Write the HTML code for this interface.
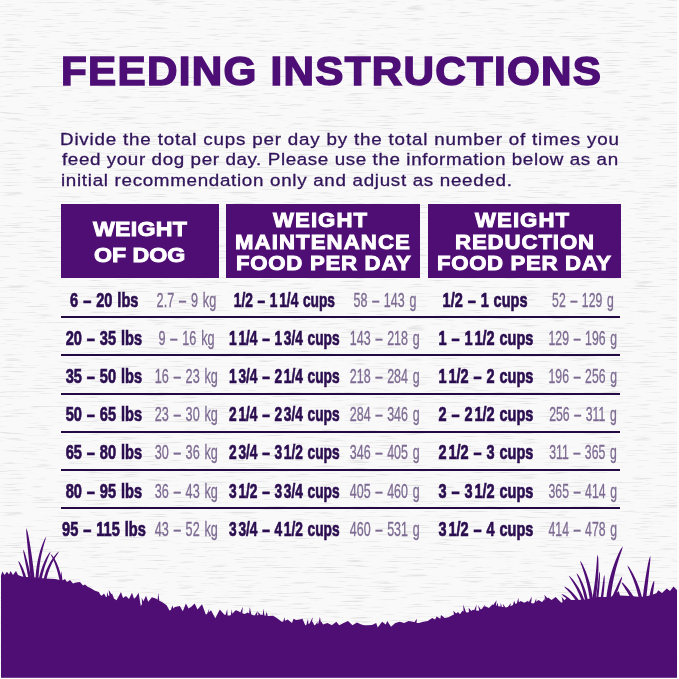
<!DOCTYPE html>
<html><head><meta charset="utf-8"><style>
*{margin:0;padding:0;box-sizing:border-box}
html,body{width:679px;height:679px;overflow:hidden;background:#f9f9f9}
body{position:relative;font-family:"Liberation Sans",sans-serif}
.t{position:absolute;white-space:nowrap;line-height:0;transform-origin:0 0}
.h1{font-weight:bold;color:#4d0e76;-webkit-text-stroke:1.5px #4d0e76}
.para{color:#31145a;-webkit-text-stroke:0.3px #31145a}
.hl{color:#fff;font-weight:bold;-webkit-text-stroke:0.9px #fff}
.box{position:absolute;top:204px;height:74px;background:#4f0e74}
.c{position:absolute;width:200px;text-align:center;white-space:nowrap;line-height:0;height:0}
.c span{display:inline-block;font-size:20.2px;line-height:0;transform-origin:50% 0}
.tb span{font-weight:bold;color:#2b0e50;-webkit-text-stroke:0.7px #2b0e50}
.c i{display:inline-block;width:2.6px}
.tb span{word-spacing:1.2px}
.tl span{word-spacing:2.2px}
.tl span{font-size:21px;color:#7d6b92;-webkit-text-stroke:0.35px #7d6b92}
.sep{position:absolute;left:61px;width:559.2px;height:2px;background:#230a42}
svg{position:absolute;left:0;top:0}
</style></head><body>
<svg width="679" height="679"><filter id="g" x="0" y="0" width="100%" height="100%"><feTurbulence type="fractalNoise" baseFrequency="0.035 0.8" numOctaves="3" seed="5"/><feColorMatrix type="matrix" values="0 0 0 0 0.55  0 0 0 0 0.55  0 0 0 0 0.55  4 0 0 0 -2.3"/></filter><rect width="679" height="679" filter="url(#g)" opacity="0.42"/></svg>
<div class="box" style="left:61px;width:158px"></div>
<div class="box" style="left:226px;width:193.8px"></div>
<div class="box" style="left:427.5px;width:193px"></div>
<div id="h" class="t h1" style="left:61.15px;top:70.73px;font-size:40.60px;letter-spacing:1.223px;transform:scaleX(1.040)">FEEDING INSTRUCTIONS</div>
<div id="p1" class="t para" style="left:60.43px;top:139.78px;font-size:16.80px;letter-spacing:0.719px;transform:scaleX(1.120)">Divide the total cups per day by the total number of times you</div>
<div id="p2" class="t para" style="left:61.64px;top:160.28px;font-size:16.80px;letter-spacing:0.538px;transform:scaleX(1.120)">feed your dog per day. Please use the information below as an</div>
<div id="p3" class="t para" style="left:60.56px;top:180.88px;font-size:16.80px;letter-spacing:0.613px;transform:scaleX(1.120)">initial recommendation only and adjust as needed.</div>
<div id="a1" class="t hl" style="left:92.64px;top:228.69px;font-size:21.10px;letter-spacing:0.199px;transform:scaleX(1.100)">WEIGHT</div>
<div id="a2" class="t hl" style="left:94.09px;top:254.69px;font-size:21.10px;letter-spacing:-0.044px;transform:scaleX(1.100)">OF DOG</div>
<div id="b1" class="t hl" style="left:272.84px;top:220.20px;font-size:20.20px;letter-spacing:0.964px;transform:scaleX(1.100)">WEIGHT</div>
<div id="b2" class="t hl" style="left:235.44px;top:241.50px;font-size:20.20px;letter-spacing:0.978px;transform:scaleX(1.100)">MAINTENANCE</div>
<div id="b3" class="t hl" style="left:235.84px;top:262.90px;font-size:20.20px;letter-spacing:0.654px;transform:scaleX(1.100)">FOOD PER DAY</div>
<div id="c1" class="t hl" style="left:475.04px;top:220.20px;font-size:20.20px;letter-spacing:0.964px;transform:scaleX(1.100)">WEIGHT</div>
<div id="c2" class="t hl" style="left:455.04px;top:241.50px;font-size:20.20px;letter-spacing:0.806px;transform:scaleX(1.100)">REDUCTION</div>
<div id="c3" class="t hl" style="left:437.34px;top:262.90px;font-size:20.20px;letter-spacing:0.588px;transform:scaleX(1.100)">FOOD PER DAY</div>
<div class="sep" style="top:316.30px"></div>
<div class="sep" style="top:354.45px"></div>
<div class="sep" style="top:392.60px"></div>
<div class="sep" style="top:430.75px"></div>
<div class="sep" style="top:468.90px"></div>
<div class="sep" style="top:507.05px"></div>
<div class="c tb" style="left:4.0px;top:300.00px"><span style="transform:scaleX(0.723)">6 – 20 lbs</span></div>
<div class="c tl" style="left:86.5px;top:300.00px"><span style="transform:scaleX(0.603)">2.7 – 9 kg</span></div>
<div class="c tb" style="left:184.0px;top:300.00px"><span style="transform:scaleX(0.680)">1/2 – 1<i></i>1/4 cups</span></div>
<div class="c tl" style="left:284.5px;top:300.00px"><span style="transform:scaleX(0.594)">58 – 143 g</span></div>
<div class="c tb" style="left:385.5px;top:300.00px"><span style="transform:scaleX(0.719)">1/2 – 1 cups</span></div>
<div class="c tl" style="left:483.0px;top:300.00px"><span style="transform:scaleX(0.582)">52 – 129 g</span></div>
<div class="c tb" style="left:4.0px;top:338.10px"><span style="transform:scaleX(0.723)">20 – 35 lbs</span></div>
<div class="c tl" style="left:86.5px;top:338.10px"><span style="transform:scaleX(0.603)">9 – 16 kg</span></div>
<div class="c tb" style="left:184.0px;top:338.10px"><span style="transform:scaleX(0.680)">1<i></i>1/4 – 1<i></i>3/4 cups</span></div>
<div class="c tl" style="left:284.5px;top:338.10px"><span style="transform:scaleX(0.594)">143 – 218 g</span></div>
<div class="c tb" style="left:385.5px;top:338.10px"><span style="transform:scaleX(0.719)">1 – 1<i></i>1/2 cups</span></div>
<div class="c tl" style="left:483.0px;top:338.10px"><span style="transform:scaleX(0.582)">129 – 196 g</span></div>
<div class="c tb" style="left:4.0px;top:376.20px"><span style="transform:scaleX(0.723)">35 – 50 lbs</span></div>
<div class="c tl" style="left:86.5px;top:376.20px"><span style="transform:scaleX(0.603)">16 – 23 kg</span></div>
<div class="c tb" style="left:184.0px;top:376.20px"><span style="transform:scaleX(0.680)">1<i></i>3/4 – 2<i></i>1/4 cups</span></div>
<div class="c tl" style="left:284.5px;top:376.20px"><span style="transform:scaleX(0.594)">218 – 284 g</span></div>
<div class="c tb" style="left:385.5px;top:376.20px"><span style="transform:scaleX(0.719)">1<i></i>1/2 – 2 cups</span></div>
<div class="c tl" style="left:483.0px;top:376.20px"><span style="transform:scaleX(0.582)">196 – 256 g</span></div>
<div class="c tb" style="left:4.0px;top:414.30px"><span style="transform:scaleX(0.723)">50 – 65 lbs</span></div>
<div class="c tl" style="left:86.5px;top:414.30px"><span style="transform:scaleX(0.603)">23 – 30 kg</span></div>
<div class="c tb" style="left:184.0px;top:414.30px"><span style="transform:scaleX(0.680)">2<i></i>1/4 – 2<i></i>3/4 cups</span></div>
<div class="c tl" style="left:284.5px;top:414.30px"><span style="transform:scaleX(0.594)">284 – 346 g</span></div>
<div class="c tb" style="left:385.5px;top:414.30px"><span style="transform:scaleX(0.719)">2 – 2<i></i>1/2 cups</span></div>
<div class="c tl" style="left:483.0px;top:414.30px"><span style="transform:scaleX(0.582)">256 – 311 g</span></div>
<div class="c tb" style="left:4.0px;top:452.40px"><span style="transform:scaleX(0.723)">65 – 80 lbs</span></div>
<div class="c tl" style="left:86.5px;top:452.40px"><span style="transform:scaleX(0.603)">30 – 36 kg</span></div>
<div class="c tb" style="left:184.0px;top:452.40px"><span style="transform:scaleX(0.680)">2<i></i>3/4 – 3<i></i>1/2 cups</span></div>
<div class="c tl" style="left:284.5px;top:452.40px"><span style="transform:scaleX(0.594)">346 – 405 g</span></div>
<div class="c tb" style="left:385.5px;top:452.40px"><span style="transform:scaleX(0.719)">2<i></i>1/2 – 3 cups</span></div>
<div class="c tl" style="left:483.0px;top:452.40px"><span style="transform:scaleX(0.582)">311 – 365 g</span></div>
<div class="c tb" style="left:4.0px;top:490.50px"><span style="transform:scaleX(0.723)">80 – 95 lbs</span></div>
<div class="c tl" style="left:86.5px;top:490.50px"><span style="transform:scaleX(0.603)">36 – 43 kg</span></div>
<div class="c tb" style="left:184.0px;top:490.50px"><span style="transform:scaleX(0.680)">3<i></i>1/2 – 3<i></i>3/4 cups</span></div>
<div class="c tl" style="left:284.5px;top:490.50px"><span style="transform:scaleX(0.594)">405 – 460 g</span></div>
<div class="c tb" style="left:385.5px;top:490.50px"><span style="transform:scaleX(0.719)">3 – 3<i></i>1/2 cups</span></div>
<div class="c tl" style="left:483.0px;top:490.50px"><span style="transform:scaleX(0.582)">365 – 414 g</span></div>
<div class="c tb" style="left:4.0px;top:528.60px"><span style="transform:scaleX(0.723)">95 – 115 lbs</span></div>
<div class="c tl" style="left:86.5px;top:528.60px"><span style="transform:scaleX(0.603)">43 – 52 kg</span></div>
<div class="c tb" style="left:184.0px;top:528.60px"><span style="transform:scaleX(0.680)">3<i></i>3/4 – 4<i></i>1/2 cups</span></div>
<div class="c tl" style="left:284.5px;top:528.60px"><span style="transform:scaleX(0.594)">460 – 531 g</span></div>
<div class="c tb" style="left:385.5px;top:528.60px"><span style="transform:scaleX(0.719)">3<i></i>1/2 – 4 cups</span></div>
<div class="c tl" style="left:483.0px;top:528.60px"><span style="transform:scaleX(0.582)">414 – 478 g</span></div>
<svg width="679" height="679"><g fill="#4f0e74"><path d="M1.0,575.6 L2.5,571.5 L4.5,575.0 L7.0,571.8 L9.0,574.5 L10.5,571.0 L13.0,575.0 L16.0,571.0 L18.0,575.0 L22.0,576.5 L26.0,577.0 L35.0,577.5 L45.0,578.5 L55.0,579.0 L60.0,580.0 L61.3,571.0 L62.5,580.5 L65.0,579.0 L67.0,582.0 L70.0,580.0 L73.0,583.5 L76.0,582.5 L80.0,582.0 L83.0,585.5 L85.0,584.5 L88.0,587.0 L90.0,587.7 L95.0,590.7 L98.8,592.1 L100.5,595.0 L101.8,595.8 L104.0,593.5 L106.0,597.0 L106.8,596.9 L107.1,591.9 L108.5,595.9 L109.4,595.4 L108.7,590.1 L111.5,594.2 L112.0,593.6 L114.0,598.5 L116.5,600.2 L121.0,592.0 L123.0,598.0 L126.0,596.0 L129.0,599.0 L132.0,592.8 L134.0,598.7 L136.0,597.0 L138.6,592.8 L140.8,606.0 L142.0,603.9 L141.7,597.8 L143.4,601.2 L146.0,595.8 L148.2,601.7 L151.9,597.2 L156.3,598.7 L157.6,599.8 L158.3,593.0 L159.3,600.7 L162.0,602.0 L166.6,605.3 L169.5,610.5 L170.8,610.0 L172.5,605.3 L173.2,608.5 L175.0,607.0 L179.8,606.0 L182.8,611.2 L185.9,603.6 L188.5,608.5 L191.0,607.0 L194.7,603.6 L197.5,609.5 L202.0,604.3 L205.8,614.6 L207.0,613.9 L209.3,608.5 L208.6,612.5 L211.0,610.2 L215.3,618.3 L219.8,609.5 L224.2,614.6 L225.5,615.1 L227.2,609.3 L227.6,615.4 L230.0,615.5 L230.8,615.1 L231.9,609.3 L232.3,613.8 L233.4,612.8 L235.7,609.9 L235.2,611.2 L236.0,610.2 L239.0,611.5 L240.3,612.4 L242.8,606.7 L242.3,613.2 L244.8,613.9 L247.7,612.4 L249.1,613.4 L249.8,606.9 L251.3,614.5 L253.6,615.3 L254.7,615.5 L257.6,610.9 L257.1,615.3 L258.3,615.2 L258.1,612.0 L260.8,615.0 L262.0,614.6 L262.8,615.1 L263.4,608.4 L264.5,615.4 L265.6,615.7 L266.7,611.7 L267.8,616.2 L268.4,616.0 L273.0,615.8 L276.0,617.5 L278.8,619.5 L281.8,621.7 L283.2,621.5 L284.4,617.3 L285.0,620.8 L287.7,619.5 L292.0,623.0 L293.6,618.7 L296.0,620.0 L299.5,619.5 L302.4,618.7 L305.3,625.3 L306.3,625.1 L308.0,618.7 L308.4,624.1 L309.5,623.6 L312.7,617.3 L312.0,622.3 L312.7,621.7 L314.2,625.3 L315.2,625.1 L317.7,621.7 L317.4,624.0 L318.3,623.6 L319.9,617.1 L320.9,622.3 L321.5,621.7 L323.0,624.6 L327.4,623.0 L331.9,625.3 L336.3,621.7 L339.2,625.3 L343.6,623.0 L348.0,621.0 L352.5,625.3 L356.9,622.4 L361.3,624.6 L364.3,625.3 L367.4,625.3 L372.0,625.0 L376.2,623.1 L377.7,627.6 L382.1,621.7 L385.8,624.6 L387.2,620.9 L391.0,626.8 L395.3,623.1 L399.8,621.7 L404.2,623.1 L408.6,620.9 L413.0,621.7 L414.4,622.3 L416.8,618.7 L416.6,622.9 L418.9,623.1 L423.3,621.7 L427.7,620.9 L432.2,618.0 L435.1,619.5 L436.6,616.5 L440.3,618.7 L441.0,615.0 L444.7,618.0 L448.4,617.2 L452.8,615.0 L454.0,614.6 L453.3,610.7 L456.1,613.4 L458.0,612.0 L460.0,614.3 L462.4,610.7 L463.6,611.4 L463.2,604.6 L466.0,612.2 L467.7,612.4 L468.9,612.1 L468.7,607.7 L471.3,610.9 L473.0,609.8 L474.2,610.3 L476.6,604.4 L476.0,610.6 L478.3,610.7 L479.2,610.4 L478.1,605.2 L480.7,609.5 L482.3,608.5 L484.9,604.4 L484.5,607.1 L485.3,606.3 L488.9,608.0 L492.4,604.5 L493.3,605.0 L496.6,600.2 L495.9,605.7 L496.4,605.8 L497.7,602.7 L498.2,606.3 L499.5,606.3 L500.4,606.7 L500.8,603.1 L501.9,606.9 L503.5,607.1 L502.7,603.7 L505.6,607.4 L506.6,607.2 L507.8,607.1 L510.9,603.0 L510.3,606.3 L511.9,605.4 L513.0,605.1 L514.1,600.8 L515.5,603.9 L516.9,603.2 L518.3,597.8 L518.9,602.2 L520.7,601.0 L524.2,602.7 L527.8,601.0 L529.0,601.9 L531.8,596.6 L531.1,602.9 L533.1,603.6 L534.3,603.1 L536.2,598.6 L536.3,601.8 L538.4,600.1 L541.9,601.9 L542.7,601.6 L545.4,597.6 L544.4,600.4 L545.3,599.7 L544.4,594.7 L547.4,598.2 L548.0,597.4 L551.6,600.1 L555.7,597.0 L558.5,600.0 L561.4,602.7 L562.6,601.9 L561.6,596.8 L564.5,600.2 L566.6,598.0 L570.0,600.0 L584.2,599.8 L597.5,597.0 L610.8,597.0 L618.8,591.2 L620.0,595.5 L630.0,596.0 L641.2,597.0 L650.0,595.5 L656.4,593.2 L658.3,590.3 L662.0,593.0 L666.8,588.4 L670.0,591.0 L673.5,586.5 L677.0,590.0 L677.0,678.0 L1.0,678.0 Z"/><path d="M34.84,581.80 L34.43,577.68 L34.00,573.59 L33.54,569.55 L33.05,565.55 L32.55,561.59 L32.02,557.68 L31.47,553.80 L30.90,549.97 L30.30,546.19 L29.66,542.44 L29.00,538.75 L28.28,535.09 L27.49,531.50 L26.30,528.00 L26.22,531.69 L26.50,535.35 L26.83,539.05 L27.19,542.78 L27.56,546.54 L27.94,550.35 L28.31,554.19 L28.69,558.07 L29.06,561.99 L29.43,565.94 L29.80,569.94 L30.16,573.98 L30.53,578.05 L30.89,582.16Z"/><path d="M38.42,581.54 L38.55,578.10 L38.74,574.69 L39.01,571.33 L39.34,568.00 L39.75,564.70 L40.23,561.45 L40.78,558.23 L41.41,555.04 L42.10,551.88 L42.86,548.76 L43.68,545.67 L44.56,542.60 L45.48,539.54 L46.20,536.40 L44.55,539.18 L43.24,542.13 L42.07,545.15 L41.00,548.22 L40.03,551.34 L39.15,554.51 L38.36,557.72 L37.66,560.99 L37.05,564.29 L36.53,567.64 L36.10,571.03 L35.76,574.46 L35.50,577.94 L35.34,581.45Z"/><path d="M41.20,581.69 L41.64,579.32 L42.12,576.98 L42.63,574.69 L43.19,572.42 L43.79,570.20 L44.43,568.01 L45.10,565.85 L45.82,563.72 L46.58,561.63 L47.37,559.57 L48.20,557.53 L49.06,555.52 L49.92,553.52 L50.60,551.40 L49.11,553.07 L47.90,554.92 L46.78,556.85 L45.73,558.83 L44.74,560.86 L43.81,562.94 L42.94,565.07 L42.12,567.24 L41.36,569.46 L40.65,571.72 L40.00,574.02 L39.40,576.37 L38.86,578.75 L38.38,581.18Z"/><path d="M45.73,582.98 L46.19,580.51 L46.72,578.07 L47.33,575.67 L48.02,573.32 L48.79,571.00 L49.64,568.72 L50.57,566.47 L51.58,564.26 L52.67,562.09 L53.83,559.94 L55.07,557.83 L56.38,555.73 L57.75,553.64 L59.00,551.40 L57.02,553.06 L55.34,554.96 L53.77,556.94 L52.30,558.99 L50.94,561.10 L49.66,563.27 L48.49,565.50 L47.41,567.78 L46.42,570.11 L45.53,572.49 L44.73,574.92 L44.02,577.40 L43.42,579.92 L42.91,582.50Z"/><path d="M62.62,582.14 L61.98,579.27 L61.30,576.52 L60.59,573.91 L59.85,571.42 L59.09,569.06 L58.30,566.83 L57.48,564.73 L56.62,562.76 L55.74,560.92 L54.83,559.21 L53.88,557.64 L52.90,556.22 L51.85,554.96 L50.60,554.00 L51.15,555.45 L51.88,556.86 L52.61,558.35 L53.35,559.96 L54.07,561.68 L54.79,563.52 L55.49,565.48 L56.18,567.56 L56.86,569.77 L57.52,572.10 L58.17,574.56 L58.80,577.14 L59.43,579.85 L60.04,582.69Z"/><path d="M31.69,580.14 L31.17,577.67 L30.65,575.24 L30.12,572.86 L29.58,570.52 L29.03,568.22 L28.48,565.96 L27.92,563.75 L27.35,561.58 L26.77,559.46 L26.17,557.38 L25.56,555.34 L24.93,553.35 L24.25,551.42 L23.30,549.60 L23.35,551.65 L23.67,553.67 L24.03,555.72 L24.42,557.80 L24.83,559.91 L25.25,562.07 L25.67,564.26 L26.11,566.49 L26.55,568.76 L27.01,571.07 L27.46,573.42 L27.93,575.81 L28.40,578.24 L28.88,580.70Z"/><path d="M26.78,579.54 L26.34,577.92 L25.87,576.35 L25.38,574.81 L24.88,573.33 L24.35,571.88 L23.81,570.48 L23.24,569.12 L22.66,567.80 L22.06,566.53 L21.43,565.31 L20.78,564.14 L20.10,563.03 L19.37,561.98 L18.40,561.10 L18.61,562.38 L19.02,563.56 L19.47,564.76 L19.92,565.99 L20.37,567.25 L20.81,568.54 L21.26,569.87 L21.70,571.23 L22.13,572.63 L22.56,574.07 L22.99,575.55 L23.40,577.06 L23.82,578.61 L24.23,580.20Z"/><path d="M610.35,601.87 L610.74,597.70 L611.20,593.57 L611.75,589.47 L612.39,585.41 L613.11,581.38 L613.93,577.39 L614.82,573.43 L615.81,569.49 L616.88,565.59 L618.02,561.72 L619.25,557.87 L620.54,554.03 L621.86,550.19 L622.90,546.20 L620.55,549.62 L618.69,553.27 L616.98,557.00 L615.41,560.80 L613.96,564.65 L612.63,568.56 L611.41,572.52 L610.30,576.52 L609.30,580.57 L608.41,584.67 L607.63,588.81 L606.96,593.00 L606.41,597.23 L605.97,601.50Z"/><path d="M595.47,599.92 L596.02,596.40 L596.51,592.92 L596.95,589.47 L597.33,586.07 L597.66,582.72 L597.94,579.40 L598.16,576.12 L598.32,572.89 L598.43,569.69 L598.47,566.55 L598.45,563.44 L598.36,560.38 L598.16,557.36 L597.60,554.40 L597.09,557.36 L596.86,560.36 L596.64,563.39 L596.40,566.46 L596.13,569.57 L595.84,572.71 L595.51,575.90 L595.15,579.13 L594.75,582.40 L594.32,585.71 L593.85,589.06 L593.34,592.46 L592.79,595.89 L592.21,599.37Z"/><path d="M593.15,600.46 L592.69,597.29 L592.16,594.16 L591.56,591.08 L590.90,588.05 L590.17,585.06 L589.37,582.12 L588.50,579.23 L587.57,576.38 L586.57,573.59 L585.50,570.84 L584.35,568.15 L583.12,565.52 L581.78,562.97 L580.10,560.60 L580.80,563.40 L581.73,566.10 L582.66,568.81 L583.54,571.55 L584.39,574.32 L585.20,577.12 L585.95,579.96 L586.66,582.83 L587.32,585.74 L587.93,588.69 L588.49,591.68 L589.00,594.70 L589.46,597.77 L589.88,600.88Z"/><path d="M588.12,601.38 L587.65,599.03 L587.13,596.73 L586.56,594.47 L585.94,592.26 L585.26,590.09 L584.54,587.97 L583.76,585.90 L582.93,583.87 L582.05,581.89 L581.11,579.97 L580.12,578.10 L579.06,576.29 L577.92,574.55 L576.50,573.00 L577.11,575.00 L577.91,576.88 L578.70,578.78 L579.47,580.71 L580.21,582.66 L580.92,584.65 L581.59,586.67 L582.23,588.73 L582.83,590.83 L583.40,592.96 L583.93,595.13 L584.42,597.35 L584.88,599.60 L585.30,601.89Z"/><path d="M584.64,601.02 L583.87,598.88 L583.04,596.79 L582.16,594.73 L581.23,592.73 L580.24,590.77 L579.21,588.85 L578.13,586.98 L576.99,585.17 L575.80,583.40 L574.57,581.68 L573.27,580.02 L571.91,578.42 L570.48,576.89 L568.80,575.60 L569.76,577.48 L570.88,579.20 L571.99,580.94 L573.07,582.69 L574.12,584.46 L575.14,586.27 L576.12,588.11 L577.06,589.98 L577.97,591.88 L578.83,593.82 L579.66,595.80 L580.46,597.81 L581.21,599.86 L581.94,601.95Z"/><path d="M580.26,602.52 L579.36,601.06 L578.42,599.65 L577.44,598.27 L576.43,596.94 L575.38,595.65 L574.29,594.40 L573.17,593.20 L572.01,592.04 L570.82,590.92 L569.59,589.86 L568.32,588.84 L567.02,587.89 L565.65,587.01 L564.10,586.40 L565.07,587.74 L566.18,588.88 L567.27,590.02 L568.35,591.16 L569.41,592.33 L570.44,593.51 L571.45,594.72 L572.43,595.96 L573.39,597.22 L574.32,598.52 L575.22,599.84 L576.10,601.19 L576.96,602.57 L577.80,603.97Z"/><path d="M573.98,602.42 L572.94,601.48 L571.93,600.59 L570.94,599.75 L569.98,598.96 L569.04,598.22 L568.12,597.53 L567.23,596.88 L566.36,596.29 L565.51,595.74 L564.69,595.25 L563.89,594.82 L563.10,594.45 L562.34,594.16 L561.50,594.10 L561.98,594.77 L562.58,595.30 L563.22,595.83 L563.90,596.39 L564.61,596.99 L565.36,597.61 L566.14,598.28 L566.95,598.98 L567.79,599.72 L568.66,600.51 L569.57,601.33 L570.51,602.19 L571.48,603.09 L572.48,604.03Z"/><path d="M598.12,599.80 L598.39,597.44 L598.63,595.13 L598.85,592.87 L599.06,590.67 L599.25,588.51 L599.41,586.40 L599.56,584.35 L599.69,582.35 L599.80,580.40 L599.89,578.50 L599.95,576.65 L599.97,574.85 L599.95,573.11 L599.70,571.40 L599.24,573.06 L598.98,574.78 L598.74,576.56 L598.51,578.39 L598.28,580.27 L598.04,582.20 L597.80,584.18 L597.56,586.22 L597.30,588.31 L597.05,590.45 L596.78,592.65 L596.50,594.89 L596.22,597.19 L595.94,599.54Z"/><path d="M602.90,599.14 L603.18,597.15 L603.44,595.21 L603.67,593.31 L603.88,591.45 L604.06,589.62 L604.23,587.84 L604.37,586.09 L604.49,584.39 L604.58,582.73 L604.64,581.10 L604.68,579.52 L604.67,577.98 L604.61,576.47 L604.30,575.00 L603.83,576.43 L603.58,577.90 L603.35,579.42 L603.13,580.97 L602.90,582.57 L602.67,584.21 L602.43,585.88 L602.19,587.60 L601.93,589.36 L601.67,591.16 L601.39,593.00 L601.11,594.89 L600.81,596.81 L600.51,598.78Z"/><path d="M613.95,599.94 L614.74,598.06 L615.49,596.22 L616.21,594.41 L616.92,592.63 L617.59,590.89 L618.24,589.18 L618.87,587.51 L619.47,585.87 L620.05,584.27 L620.59,582.70 L621.10,581.16 L621.57,579.65 L621.97,578.16 L622.10,576.60 L621.11,577.81 L620.36,579.16 L619.64,580.56 L618.92,582.02 L618.20,583.51 L617.48,585.05 L616.75,586.63 L616.01,588.25 L615.25,589.91 L614.49,591.61 L613.71,593.35 L612.92,595.14 L612.13,596.96 L611.32,598.82Z"/><path d="M645.87,601.97 L646.25,598.43 L646.62,594.93 L646.98,591.46 L647.35,588.03 L647.71,584.65 L648.08,581.30 L648.44,577.99 L648.80,574.72 L649.15,571.49 L649.49,568.29 L649.82,565.13 L650.13,562.01 L650.39,558.91 L650.30,555.80 L649.22,558.73 L648.50,561.75 L647.85,564.83 L647.23,567.96 L646.65,571.13 L646.09,574.34 L645.55,577.60 L645.02,580.90 L644.52,584.24 L644.03,587.62 L643.56,591.05 L643.11,594.52 L642.67,598.03 L642.26,601.58Z"/><path d="M642.93,601.38 L642.28,598.47 L641.55,595.61 L640.76,592.80 L639.90,590.03 L638.98,587.31 L637.99,584.63 L636.94,582.00 L635.82,579.42 L634.64,576.90 L633.38,574.42 L632.05,572.00 L630.65,569.64 L629.14,567.36 L627.30,565.30 L628.21,567.89 L629.33,570.35 L630.43,572.82 L631.51,575.31 L632.54,577.83 L633.52,580.37 L634.47,582.96 L635.36,585.57 L636.20,588.22 L637.00,590.91 L637.74,593.64 L638.44,596.41 L639.09,599.21 L639.70,602.05Z"/><path d="M635.94,600.42 L634.98,598.83 L634.02,597.28 L633.04,595.76 L632.06,594.29 L631.08,592.86 L630.09,591.47 L629.10,590.12 L628.10,588.81 L627.10,587.55 L626.09,586.33 L625.06,585.16 L624.01,584.04 L622.93,583.00 L621.60,582.20 L622.09,583.66 L622.82,584.96 L623.60,586.25 L624.41,587.55 L625.23,588.88 L626.06,590.23 L626.91,591.61 L627.76,593.02 L628.62,594.45 L629.50,595.92 L630.38,597.42 L631.27,598.94 L632.17,600.50 L633.09,602.09Z"/><path d="M651.90,601.99 L652.13,600.23 L652.34,598.52 L652.56,596.84 L652.76,595.21 L652.97,593.61 L653.17,592.05 L653.37,590.53 L653.56,589.05 L653.75,587.60 L653.93,586.19 L654.09,584.82 L654.23,583.48 L654.32,582.16 L654.10,580.80 L653.27,581.91 L652.76,583.14 L652.31,584.43 L651.89,585.77 L651.50,587.15 L651.12,588.58 L650.76,590.05 L650.42,591.57 L650.08,593.12 L649.77,594.72 L649.46,596.37 L649.17,598.05 L648.89,599.78 L648.63,601.54Z"/></g><rect x="677.2" y="0" width="2" height="679" fill="#fdfdfd"/><rect x="0" y="677.8" width="679" height="2" fill="#fdfdfd"/></svg>
</body></html>
